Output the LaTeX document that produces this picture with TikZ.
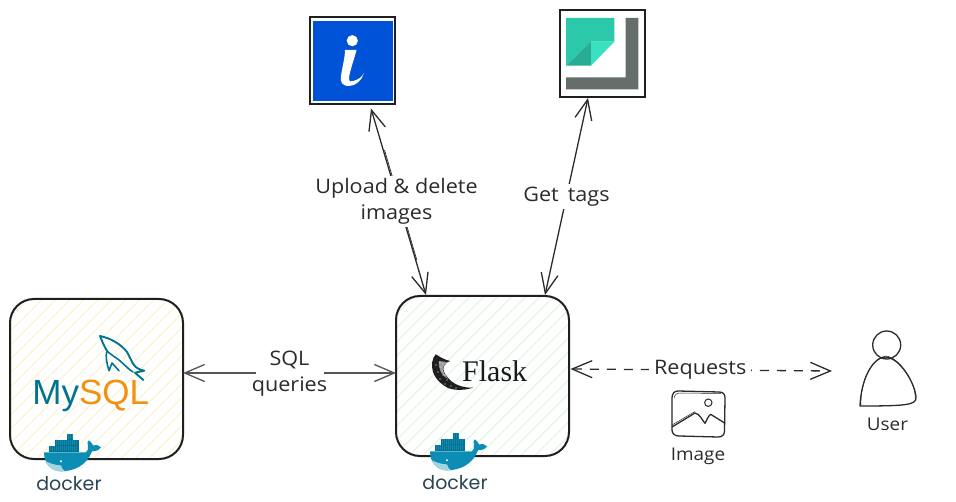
\documentclass[tikz,border=0pt]{standalone}
\usepackage{fontspec}
\setmainfont{Open Sans}[FakeStretch=1.08]
\newfontfamily\logofont{Liberation Sans}
\newfontfamily\flaskfont{Liberation Serif}
\newfontfamily\dockerfont{Poppins}
\usetikzlibrary{arrows.meta}
\definecolor{ink}{HTML}{2B2B2B}
\definecolor{mysqlteal}{HTML}{00758F}
\definecolor{mysqlorange}{HTML}{F29111}
\definecolor{hatchyellow}{HTML}{FCF5D8}
\definecolor{hatchgreen}{HTML}{E3F7E6}
\definecolor{infoblue}{HTML}{0052D6}
\definecolor{notea}{HTML}{2BC8AC}
\definecolor{noteb}{HTML}{29AD92}
\definecolor{notec}{HTML}{36E2C0}
\definecolor{notegray}{HTML}{666E6B}
\definecolor{whaleblue}{HTML}{0B8DB5}
\definecolor{whalebelly}{HTML}{A3D5DC}
\definecolor{cratedark}{HTML}{0A6F8F}
\definecolor{dockerink}{HTML}{2B4552}
\tikzset{
  sketchbox/.style={draw=black!88,line width=2pt,rounded corners=24pt,minimum width=173pt,minimum height=160pt,inner sep=0pt,outer sep=0pt,
    path picture={\foreach \k in {-190,-176,...,190}{\draw[#1,line width=1.1pt]
      ([xshift=\k pt-100pt,yshift=-100pt]path picture bounding box.center) -- ([xshift=\k pt+100pt,yshift=100pt]path picture bounding box.center);}}},
  iconframe/.style={draw=black!88,fill=white,line width=2pt,inner sep=0pt,outer sep=0pt},
  barbs/.style={{Straight Barb[length=20pt,width=17pt,line width=1.3pt]}-{Straight Barb[length=20pt,width=17pt,line width=1.3pt]}},
  link/.style={draw=ink,line width=1.3pt,barbs},
  lbl/.style={fill=white,font=\fontsize{20}{26}\selectfont,text=ink,inner sep=0pt,outer sep=0pt,align=center},
  caption/.style={font=\fontsize{17.5}{20}\selectfont,text=ink,inner sep=0pt},
  sketch/.style={draw=ink,line width=1.3pt,line join=round},
  docker logo/.pic={
    \fill[whaleblue] (0,0) -- (42,0) .. controls (44,-1) and (44.5,-4) .. (44,-7)
      .. controls (43,-10) and (44,-12) .. (45,-12) .. controls (47,-11) and (48,-8) .. (49,-7)
      .. controls (52,-8) and (55,-7) .. (57,-5) .. controls (55,-2) and (52,-1) .. (48,-1)
      .. controls (43,13) and (30,19) .. (17,19) .. controls (8,19) and (0,12) .. (0,0) -- cycle;
    \fill[whalebelly] (2,9) .. controls (10,13) and (15,13) .. (17,13) .. controls (18,16) and (19,18) .. (21,19)
      .. controls (10,20) and (5,16) .. (2,9) -- cycle;
    \fill[white] (17,9) circle (1.1pt);
    \foreach \cx/\cy/\cw in {5/-6/30,11/-12/24,23/-18/6.3}{
      \fill[cratedark] (\cx,\cy) rectangle +(\cw,5.3);
    }
    \foreach \sx in {6.5,8.5,...,34}{\draw[whaleblue,line width=.35pt] (\sx,-5.8) -- (\sx,-.9);}
    \foreach \sx in {12.5,14.5,...,34}{\draw[whaleblue,line width=.35pt] (\sx,-11.8) -- (\sx,-6.9);}
    \foreach \sx in {24.5,26.5,28.5}{\draw[whaleblue,line width=.35pt] (\sx,-17.8) -- (\sx,-12.9);}
    \node[text=dockerink,inner sep=0pt,font=\dockerfont\fontsize{19}{20}\selectfont] (-word) at (25,31.5) {docker};
  }
}
\begin{document}
\begin{tikzpicture}[x=1pt,y=-1pt]
\useasboundingbox[fill=white] (0,0) rectangle (956,502);

% main boxes
\node[sketchbox=hatchyellow] (mysql) at (96.5,379) {};
\node[sketchbox=hatchgreen] (flask) at (482.5,376) {};

% icon frames
\node[iconframe,minimum width=85pt,minimum height=87pt] (info) at (352.5,61) {};
\fill[infoblue] (312.7,20.7) rectangle (393.3,100.7);
\fill[white] (352.3,40.7) circle (5.6pt);
\fill[white] (345,50) -- (356.5,50) .. controls (354,60) and (350,70) .. (349,78)
  .. controls (349,82) and (351,82) .. (353,81) .. controls (358,80) and (362,77) .. (364,73)
  .. controls (362,80) and (356,86) .. (349,86) .. controls (342,86) and (340,82) .. (341,76)
  .. controls (342,68) and (345,58) .. (345,50) -- cycle;

\node[iconframe,minimum width=85pt,minimum height=87pt] (tags) at (602,53.5) {};
\fill[notea] (566,18) -- (614.3,18) -- (614.3,41.7) -- (591,41.7) -- (566,65.7) -- cycle;
\fill[noteb] (566,65.7) -- (591,41.7) -- (591,65.7) -- cycle;
\fill[notec] (591,41.7) -- (614.3,41.7) -- (591,65.7) -- cycle;
\fill[notegray] (625.7,18) -- (638.3,18) -- (638.3,89.3) -- (566,89.3) -- (566,77.3) -- (625.7,77.3) -- cycle;

% MySQL logo
\node[anchor=base,inner sep=0pt,font=\logofont\fontsize{35}{35}\selectfont] (mysqlword) at (90.7,405)
  {\textcolor{mysqlteal}{My}\textcolor{mysqlorange}{SQL}};
\draw[mysqlteal,line width=1.9pt,line join=round,line cap=round]
  (107,351) .. controls (104,346) and (102,341) .. (100,336)
  .. controls (110,338) and (121,344) .. (127,352) .. controls (130,357) and (131,361) .. (134,365)
  .. controls (136,368) and (140,370) .. (144.3,370.7) -- (135,372.7) -- (143.3,380);
\draw[mysqlteal,line width=1.6pt,line join=round,line cap=round]
  (133,372) .. controls (128,369) and (124,364) .. (119,360) .. controls (115,357) and (110,354) .. (107,351)
  .. controls (105,356) and (107,364) .. (109,370.7) -- (112,363) -- (119,370.7);

% Flask logo
\node[anchor=base,inner sep=0pt,text=black!90,font=\flaskfont\fontsize{30}{30}\selectfont] (flaskword) at (494.7,381.7) {Flask};
\fill[black!88] (435.7,354.3) .. controls (432,358) and (431,366) .. (433,372)
  .. controls (436,380) and (442,385) .. (448,388) .. controls (456,391) and (466,390) .. (473,387.7)
  .. controls (464,388) and (455,385) .. (450,380) .. controls (445,375) and (442,370) .. (444,366)
  .. controls (445,363) and (448,362) .. (450,361) .. controls (445,360) and (440,357) .. (435.7,354.3) -- cycle;
\fill[black!40] (439,361) .. controls (442,361) and (446,362) .. (447,362.5) .. controls (443,365) and (442,369) .. (444,373)
  -- (448,379) .. controls (442,376) and (438,369) .. (439,361) -- cycle;
\foreach \a/\b in {440/363,443/364,441/367,444/368,442/371,445/375,443/375,447/380,438/372,440/379,445/384,451/386,456/388,436/365}{
  \fill[white] (\a,\b) circle (.55pt);}

% docker logos
\pic (dockerA) at (44,452.3) {docker logo};
\pic (dockerB) at (430,451.3) {docker logo};

% person
\node[draw=ink,line width=1.3pt,shape=circle,minimum size=28pt,inner sep=0pt,outer sep=0pt] (head) at (886.7,345) {};
\draw[sketch] (860,406) .. controls (861,380) and (872,358) .. (885,357)
  .. controls (900,357) and (916,385) .. (916,398) .. controls (916,405) and (905,406) .. (860,406) -- cycle;
\draw[sketch,line width=.5pt] (861,405) .. controls (860,380) and (873,357) .. (886,356)
  .. controls (901,358) and (917,386) .. (915,399);
\node[caption] (user) at (887.5,424) {User};

% image icon
\draw[sketch] (678,391) -- (719,392) .. controls (723,392) and (725,394) .. (725,398) -- (724.5,431)
  .. controls (724.5,435) and (722,437) .. (718,437) -- (679,436) .. controls (675,436) and (672,434) .. (672,430)
  -- (672,398) .. controls (672,394) and (674,391) .. (678,391) -- cycle;
\draw[sketch,line width=.5pt] (674,398) .. controls (675,394) and (677,393) .. (681,393) -- (721,393.5);
\node[draw=ink,line width=1pt,shape=circle,minimum size=7.4pt,inner sep=0pt] (sun) at (708.3,402.7) {};
\draw[sketch] (672,427) -- (695,413) .. controls (700,414) and (702,420) .. (705,423.3)
  .. controls (707,420) and (708,416) .. (710.7,414.3) -- (725,423.3);
\draw[sketch,line width=.5pt] (672,425) -- (695,411.5);
\node[caption] (imagecap) at (698,456) {Image};

% connectors (doubled stroke first, then the labelled line)
\draw[ink,line width=.7pt] ([xshift=32pt,yshift=-45.5pt]info.south) -- ([xshift=-65.7pt,yshift=36pt]flask.north);
\draw[link] ([xshift=18.5pt,yshift=-4pt]info.south) -- node[lbl,minimum height=51pt,pos=.5,xshift=-2pt] (uploadlabel) {Upload \& delete\\images} ([xshift=-56.5pt,yshift=1pt]flask.north);
\draw[link] ([xshift=-14pt,yshift=-1pt]tags.south) -- node[lbl,minimum height=25pt] (getlabel) {Get\hspace{9pt}tags} ([xshift=62.5pt,yshift=1pt]flask.north);
\draw[link,draw=ink!80,line width=1.9pt,{Straight Barb[length=20pt,width=17pt,line width=1.3pt]}-{Straight Barb[length=20pt,width=17pt,line width=1.3pt]}] ([yshift=6pt]mysql.east) -- node[lbl,minimum width=68pt,minimum height=50pt,yshift=-1pt] (sqllabel) {SQL\\\makebox[68pt][c]{queries}} ([yshift=3pt]flask.west);
\coordinate (usertip) at ([xshift=-40.7pt,yshift=-26pt]head.west);
\draw[link,dash pattern=on 9pt off 8pt] ([xshift=1.5pt,yshift=7pt]flask.east) -- node[lbl,minimum width=102pt,minimum height=20pt,xshift=-1pt] (reqlabel) {Requests} (usertip);
\end{tikzpicture}
\end{document}
